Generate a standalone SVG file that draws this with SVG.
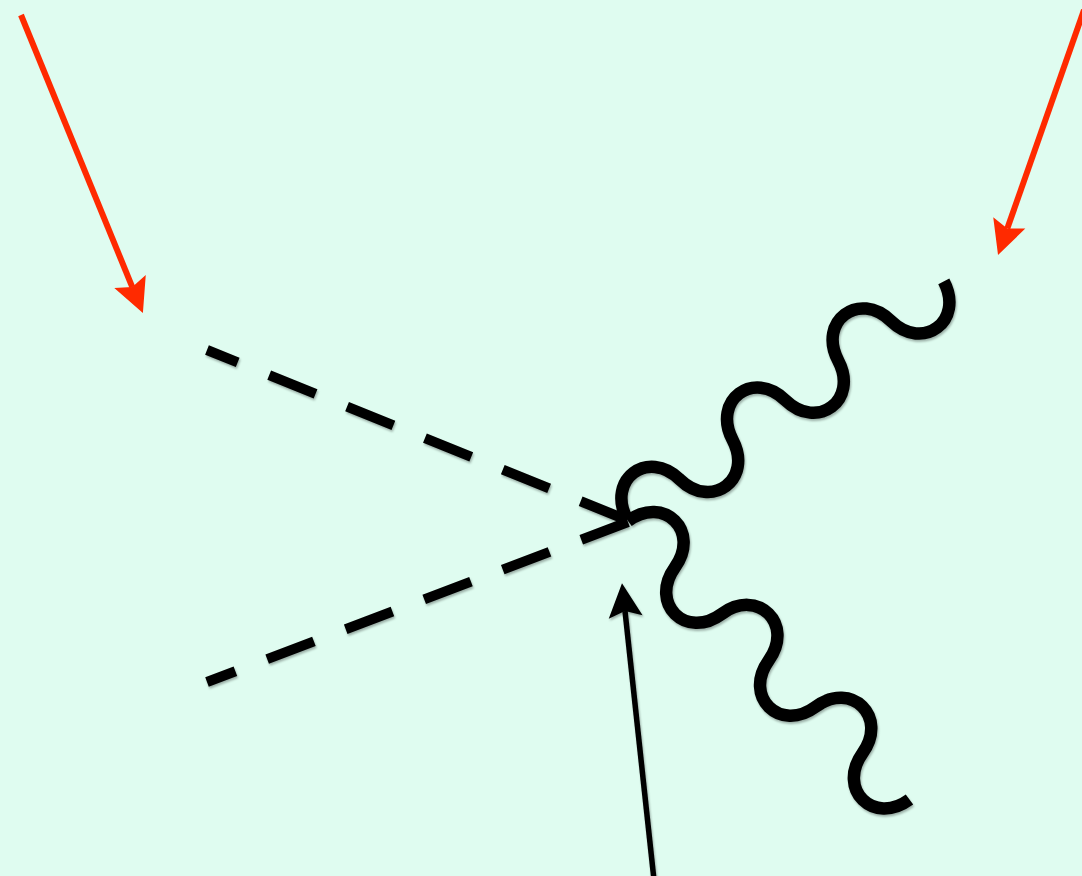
<svg xmlns="http://www.w3.org/2000/svg" width="1082" height="876" viewBox="0 0 1082 876">
  <defs>
    <style>
      .red { stroke: #FF2A00; stroke-width: 6; fill: none; }
      .blk { stroke: #000; stroke-width: 5.5; fill: none; }
      .dash { stroke: #000; stroke-width: 10; fill: none; stroke-dasharray: 50 34; stroke-linecap: butt; }
      .wave { stroke: #000; stroke-width: 12.5; fill: none; stroke-linecap: butt; }
    </style>
    <filter id="shadow" x="-10%" y="-10%" width="120%" height="120%">
      <feDropShadow dx="1" dy="2" stdDeviation="1.2" flood-color="#000" flood-opacity="0.3"/>
    </filter>
    <marker id="headRed" markerUnits="userSpaceOnUse" markerWidth="40" markerHeight="40" refX="6" refY="0" orient="auto" viewBox="0 -20 40 40" overflow="visible">
      <path d="M0,-17 L34,0 L0,17 L6,0 Z" fill="#FF2A00"/>
    </marker>
    <marker id="headBlk" markerUnits="userSpaceOnUse" markerWidth="40" markerHeight="40" refX="6" refY="0" orient="auto" viewBox="0 -20 40 40" overflow="visible">
      <path d="M0,-17 L34,0 L0,17 L6,0 Z" fill="#000"/>
    </marker>
    <path id="wavePath" d="M0,0 C7,-44 59,-44 66,0 C73,44 125,44 132,0 C139,-44 191,-44 198,0 C205,44 257,44 264,0 C271,-44 323,-44 330,0 C337,44 389,44 396,0"/>
  </defs>
  <rect id="background" x="0" y="0" width="1082" height="876" fill="#DFFCF0"/>
  <g id="connectors">
    <g id="red-arrows">
      <line id="red-arrow-left" class="red" x1="21" y1="15" x2="132.3" y2="287.1" marker-end="url(#headRed)"/>
      <line id="red-arrow-right" class="red" x1="1084" y1="10" x2="1007.3" y2="228.6" marker-end="url(#headRed)"/>
    </g>
    <g id="black-lines" filter="url(#shadow)">
      <line id="dashed-upper" class="dash" x1="627" y1="520" x2="207" y2="350"/>
      <line id="dashed-lower" class="dash" x1="628" y1="522" x2="207" y2="682"/>
      <use id="wave-upper" class="wave" href="#wavePath" transform="translate(627,519) rotate(-36.87)"/>
      <use id="wave-lower" class="wave" href="#wavePath" transform="translate(628,521) rotate(44.7)"/>
      <line id="black-arrow" class="blk" x1="654" y1="880" x2="625" y2="611" marker-end="url(#headBlk)"/>
    </g>
  </g>
</svg>
